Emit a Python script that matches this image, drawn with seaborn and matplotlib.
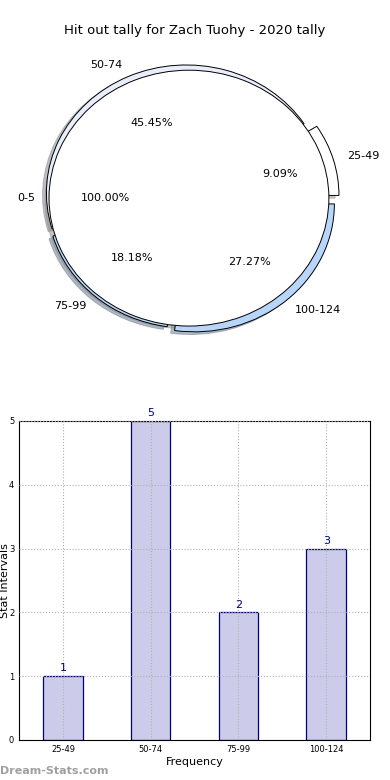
import matplotlib
matplotlib.use("Agg")
import matplotlib.pyplot as plt
import seaborn as sns

# data
base_label = "0-5"
base_value = [1]
bins = ["25-49", "50-74", "75-99", "100-124"]
counts = [1, 5, 2, 3]

title = "Hit out tally for Zach Tuohy - 2020 tally"

sns.set_style("white")
plt.rcParams['font.family'] = ['DejaVu Sans']
plt.rcParams['text.color'] = 'black'
plt.rcParams['axes.labelcolor'] = 'black'
plt.rcParams['xtick.color'] = 'black'
plt.rcParams['ytick.color'] = 'black'

wedge_colors = ["#ffffff", "#e8eefc", "#b8d6fb", "#b8d6fb"]
explode = [0.075, 0.045, 0.02, 0.06]
shadow = dict(ox=-0.02, oy=-0.015, shade=0.45)

fig = plt.figure(figsize=(3.9, 7.8), dpi=100)
fig.text(0.5, 0.961, title, ha='center', va='center', fontsize=9.5)

# pie: exploded ring of intervals behind one full white wedge
ax1 = fig.add_axes([0.036, 0.541, 0.897, 0.41])
ax1.pie(counts, labels=bins, colors=wedge_colors, explode=explode,
        autopct='%1.2f%%', shadow=shadow, startangle=0,
        wedgeprops=dict(edgecolor='black', linewidth=0.7),
        textprops=dict(fontsize=8))
ax1.pie(base_value, labels=[base_label], colors=["#ffffff"],
        autopct='%1.2f%%', shadow=shadow, startangle=0,
        wedgeprops=dict(edgecolor='black', linewidth=0.7),
        textprops=dict(fontsize=8))
ax1.set_aspect('auto')
ax1.set_xlim(-1.25, 1.25)
ax1.set_ylim(-1.25, 1.25)

# bar chart
ax2 = fig.add_axes([0.049, 0.0513, 0.9, 0.409])
sns.barplot(x=bins, y=counts, ax=ax2, color="#ccccea", saturation=1,
            edgecolor="#000080", linewidth=0.9, width=0.45)
ax2.set_xlim(-0.5, 3.5)
ax2.set_ylim(0, 5)
ax2.set_yticks(range(0, 6))
ax2.grid(True, linestyle=':', color='#b0b0b0', linewidth=0.8)
ax2.set_axisbelow(False)
for c in ax2.containers:
    ax2.bar_label(c, fmt='%d', padding=2, color='#000080', fontsize=8)
ax2.tick_params(axis='both', labelsize=6, direction='in', length=3)
ax2.set_xlabel("Frequency", fontsize=8, labelpad=2)
ax2.set_ylabel("Stat Intervals", fontsize=8)
ax2.yaxis.set_label_coords(-0.027, 0.5)
for s in ax2.spines.values():
    s.set_color('black')
    s.set_linewidth(0.8)

fig.text(0.0, 0.0115, "Dream-Stats.com", color='#a0a0a0', fontsize=8,
         fontweight='bold', ha='left', va='center')

fig.savefig("out.png", dpi=100)
